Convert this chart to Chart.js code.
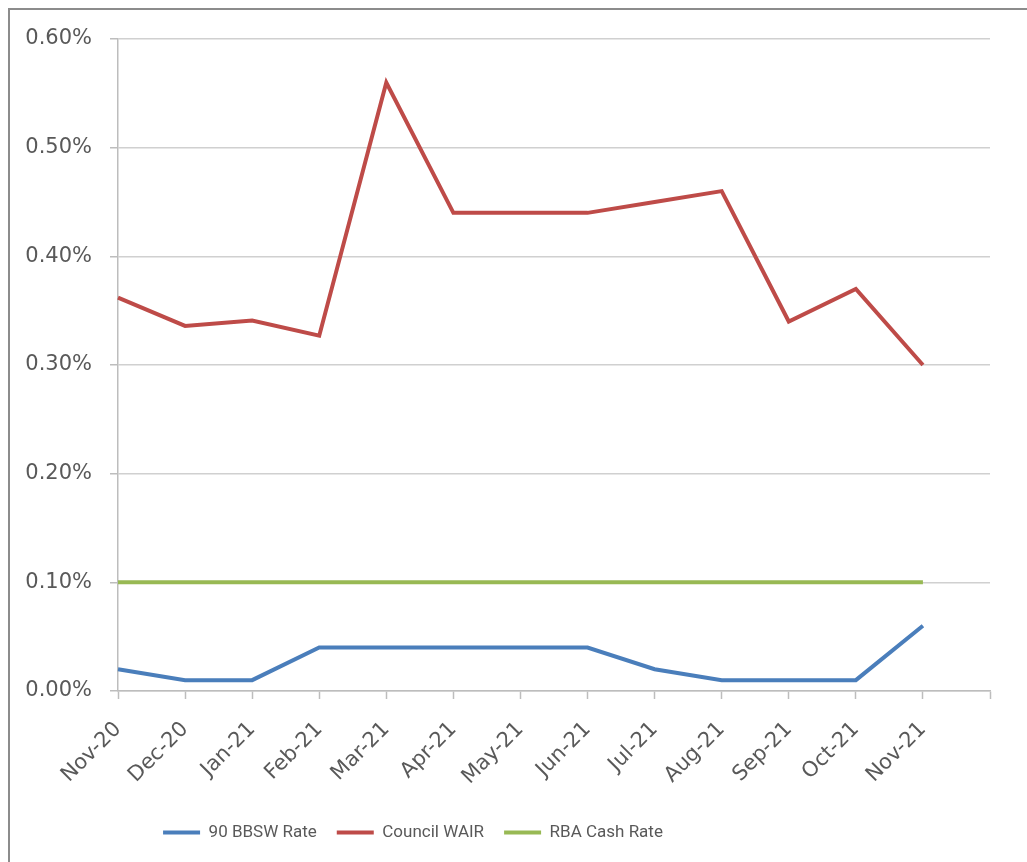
<!DOCTYPE html>
<html>
<head>
<meta charset="utf-8">
<script src="https://cdn.jsdelivr.net/npm/chart.js@4/dist/chart.umd.min.js"></script>
<style>
  html, body { margin: 0; padding: 0; background: #ffffff; overflow: hidden; }
  #frame {
    position: absolute; left: 8px; top: 8px; width: 1100px; height: 1000px;
    border-top: 2px solid #8c8c8c; border-left: 2px solid #8c8c8c;
    box-sizing: border-box;
  }
  #wrap { position: absolute; left: 0; top: 0; width: 1027px; height: 862px; }
</style>
</head>
<body>
<div id="frame"></div>
<div id="wrap"><canvas id="chart" width="1027" height="862"></canvas></div>
<script>
// Monthly rates, in percent
const months = ['Nov-20', 'Dec-20', 'Jan-21', 'Feb-21', 'Mar-21', 'Apr-21', 'May-21',
                'Jun-21', 'Jul-21', 'Aug-21', 'Sep-21', 'Oct-21', 'Nov-21', ''];
const bbswRate    = [0.02, 0.01, 0.01, 0.04, 0.04, 0.04, 0.04, 0.04, 0.02, 0.01, 0.01, 0.01, 0.06];
const councilWair = [0.362, 0.336, 0.341, 0.327, 0.56, 0.44, 0.44, 0.44, 0.45, 0.46, 0.34, 0.37, 0.30];
const rbaCashRate = [0.10, 0.10, 0.10, 0.10, 0.10, 0.10, 0.10, 0.10, 0.10, 0.10, 0.10, 0.10, 0.10];
const yTicks = [0, 0.1, 0.2, 0.3, 0.4, 0.5, 0.6];

const seriesNames = ['90 BBSW Rate', 'Council WAIR', 'RBA Cash Rate'];
const seriesColors = ['#4A7EBB', '#BE4B48', '#98B954'];

const axisFont = { family: "'DejaVu Sans', sans-serif", size: 21 };
const legendFont = { family: "'Roboto', sans-serif", size: 17 };
const textColor = '#595959';

function lineDataset(label, data, color) {
  return {
    label: label,
    data: data,
    borderColor: color,
    backgroundColor: color,
    borderWidth: 4,
    pointRadius: 0,
    pointHoverRadius: 0,
    tension: 0,
    fill: false
  };
}

// Shifts the bottom legend leftwards, so it sits under the left part of the plot
const legendShift = {
  id: 'legendShift',
  afterLayout(chart) {
    const lg = chart.legend;
    if (lg) { lg.left -= 82; lg.right -= 82; }
  }
};

new Chart(document.getElementById('chart'), {
  type: 'line',
  data: {
    labels: months,
    datasets: [
      lineDataset(seriesNames[0], bbswRate, seriesColors[0]),
      lineDataset(seriesNames[1], councilWair, seriesColors[1]),
      lineDataset(seriesNames[2], rbaCashRate, seriesColors[2])
    ]
  },
  options: {
    responsive: false,
    animation: false,
    events: [],
    layout: { padding: { left: 0, right: 37, top: 39, bottom: 11 } },
    plugins: {
      tooltip: { enabled: false },
      legend: {
        position: 'bottom',
        labels: {
          boxWidth: 37,
          boxHeight: 4,
          padding: 20,
          color: textColor,
          font: legendFont,
          generateLabels(chart) {
            return chart.data.datasets.map((ds, i) => ({
              text: ds.label,
              fillStyle: ds.borderColor,
              strokeStyle: ds.borderColor,
              lineWidth: 0,
              hidden: false,
              datasetIndex: i,
              fontColor: textColor
            }));
          }
        }
      }
    },
    scales: {
      x: {
        type: 'category',
        offset: false,
        afterFit(scale) { scale.height = 113; },
        grid: {
          display: true,
          drawOnChartArea: false,
          drawTicks: true,
          tickLength: 8,
          tickColor: '#bdbdbd',
          tickWidth: 1.5
        },
        border: { display: true, color: '#bdbdbd', width: 1.5 },
        ticks: {
          autoSkip: false,
          maxRotation: 45,
          minRotation: 45,
          padding: 18,
          color: textColor,
          font: axisFont
        }
      },
      y: {
        min: 0,
        max: 0.6,
        afterFit(scale) { scale.width = 118; },
        afterBuildTicks(scale) { scale.ticks = yTicks.map(v => ({ value: v })); },
        grid: {
          color: '#d0d0d0',
          lineWidth: 1.5,
          drawTicks: true,
          tickLength: 8,
          tickColor: '#bdbdbd'
        },
        border: { display: true, color: '#bdbdbd', width: 1.5 },
        ticks: {
          padding: 18,
          color: textColor,
          font: axisFont,
          callback: (v) => Number(v).toFixed(2) + '%'
        }
      }
    }
  },
  plugins: [legendShift]
});
</script>
</body>
</html>
